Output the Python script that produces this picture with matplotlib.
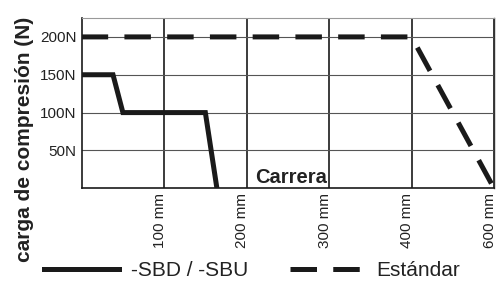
import numpy as np
import matplotlib.pyplot as plt
from matplotlib.transforms import ScaledTranslation

plt.rcParams['font.family'] = ['Liberation Sans', 'DejaVu Sans']

# Carrera positions shown on the axis (mm); axis is evenly spaced per tick
stroke_ticks = [0, 100, 200, 300, 400, 600]
tick_labels = ['100 mm', '200 mm', '300 mm', '400 mm', '600 mm']
force_ticks = [50, 100, 150, 200]
force_labels = ['50N', '100N', '150N', '200N']

# -SBD / -SBU series
sbd_stroke = [0, 38, 50, 150, 164]
sbd_force = [150, 150, 100, 100, 0]

# Estándar series
std_stroke = [0, 400, 600]
std_force = [200, 200, 0]


def main():
    idx = np.arange(len(stroke_ticks), dtype=float)

    def fwd(x):
        return np.interp(x, stroke_ticks, idx)

    def inv(x):
        return np.interp(x, idx, stroke_ticks)

    fig = plt.figure(figsize=(5.01, 2.81), dpi=100)
    ax = fig.add_axes([0.163, 0.330, 0.823, 0.606])
    ax.set_xscale('function', functions=(fwd, inv))

    ax.plot(sbd_stroke, sbd_force, color='#1a1a1a', lw=3.6,
            solid_joinstyle='miter', label='-SBD / -SBU')
    ax.plot(std_stroke, std_force, color='#1a1a1a', lw=3.6,
            dashes=(5.3, 3.25), label='Estándar')

    ax.set_xlim(0, 600)
    ax.set_ylim(0, 225)
    ax.set_xticks(stroke_ticks[1:])
    ax.set_xticklabels(tick_labels, rotation=90, fontsize=11, color='#222')
    ax.xaxis.set_minor_locator(plt.NullLocator())
    ax.set_yticks(force_ticks)
    ax.set_yticklabels(force_labels, fontsize=11, color='#222')
    ax.tick_params(length=0, pad=3.5)

    # nudge rotated x labels a little to the left
    shift = ScaledTranslation(-3 / 72, 0, fig.dpi_scale_trans)
    for lab in ax.get_xticklabels():
        lab.set_transform(lab.get_transform() + shift)

    ax.set_axisbelow(True)
    ax.grid(axis='y', color='#555555', lw=0.8)
    ax.grid(axis='x', color='#1a1a1a', lw=1.2)

    ax.spines['top'].set_color('#999999')
    ax.spines['top'].set_linewidth(0.8)
    ax.spines['right'].set_color('#333333')
    ax.spines['right'].set_linewidth(1.0)
    for side in ['left', 'bottom']:
        ax.spines[side].set_color('#1a1a1a')
        ax.spines[side].set_linewidth(1.2)

    ax.set_ylabel('carga de compresión (N)', fontsize=15,
                  fontweight='bold', color='#222')
    ax.yaxis.set_label_coords(-0.116, 0.29)

    ax.text(297, 7, 'Carrera', fontsize=14.5, fontweight='bold',
            color='#222', ha='right', va='baseline')

    fig.legend(loc='center', bbox_to_anchor=(252 / 501, 1 - 271 / 281),
               ncol=2, frameon=False, fontsize=15, handlelength=3.6,
               handletextpad=0.55, columnspacing=2.0, labelcolor='#222')

    fig.savefig('out.png', dpi=100)


if __name__ == '__main__':
    main()
